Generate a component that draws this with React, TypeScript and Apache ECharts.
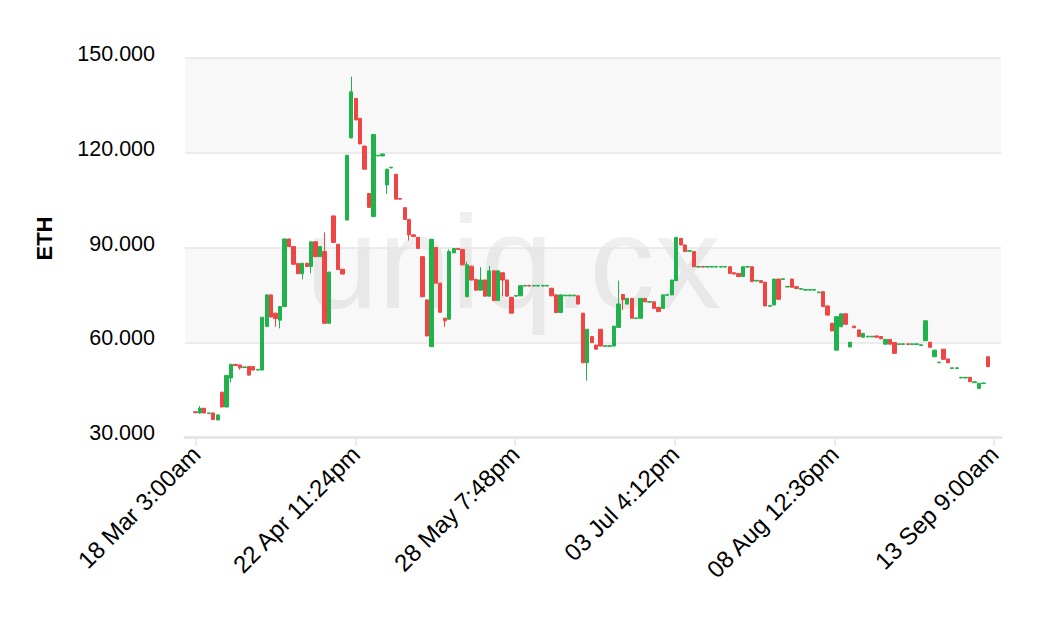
import React, { useEffect, useRef } from 'react';
import * as echarts from 'echarts';

const YEAR = 2022;

// One candle per day: [open, close, low, high]
const DATES = [
  '03-18','03-19','03-20','03-21','03-22','03-23','03-24','03-25','03-26','03-27','03-28','03-29','03-30','03-31',
  '04-01','04-02','04-03','04-04','04-05','04-06','04-07','04-08','04-09','04-10','04-11','04-12','04-13','04-14','04-15',
  '04-16','04-17','04-18','04-19','04-20','04-21','04-22','04-23','04-24','04-25','04-26','04-27','04-28','04-29','04-30',
  '05-01','05-02','05-03','05-04','05-05','05-06','05-07','05-08','05-09','05-10','05-11','05-12','05-13','05-14','05-15',
  '05-16','05-17','05-18','05-19','05-20','05-21','05-22','05-23','05-24','05-25','05-26','05-27','05-28','05-29','05-30','05-31',
  '06-01','06-02','06-03','06-04','06-05','06-06','06-07','06-08','06-09','06-10','06-11','06-12','06-13','06-14','06-15',
  '06-16','06-17','06-18','06-19','06-20','06-21','06-22','06-23','06-24','06-25','06-26','06-27','06-28','06-29','06-30',
  '07-01','07-02','07-03','07-04','07-05','07-06','07-07','07-08','07-09','07-10','07-11','07-12','07-13','07-14','07-15',
  '07-16','07-17','07-18','07-19','07-20','07-21','07-22','07-23','07-24','07-25','07-26','07-27','07-28','07-29','07-30','07-31',
  '08-01','08-02','08-03','08-04','08-05','08-06','08-07','08-08','08-09','08-10','08-11','08-12','08-13','08-14','08-15',
  '08-16','08-17','08-18','08-19','08-20','08-21','08-22','08-23','08-24','08-25','08-26','08-27','08-28','08-29','08-30','08-31',
  '09-01','09-02','09-03','09-04','09-05','09-06','09-07','09-08','09-09','09-10','09-11','09-12',
];

const CANDLES: number[][] = [
  // March
  [38.0,37.7,37.5,38.1],[37.6,39.1,37.4,39.8],[39.1,37.6,37.5,39.2],[37.4,37.6,37.3,37.7],
  [37.6,35.5,35.4,37.7],[35.4,37.0,35.3,37.1],[44.2,39.5,39.4,44.3],[39.5,49.5,39.4,49.6],
  [48.7,53.0,47.3,53.2],[53.0,52.6,52.5,53.1],[52.8,51.9,51.3,52.9],[52.0,52.2,51.9,52.3],
  [52.3,49.6,49.5,52.4],[52.3,51.2,51.1,52.4],
  // April
  [51.2,51.4,51.1,51.5],[51.2,67.9,51.1,68.0],[65.0,75.0,64.9,75.1],[75.0,68.0,67.9,75.1],
  [69.2,67.5,64.9,69.3],[67.0,71.3,64.4,71.4],[71.3,92.7,71.2,92.8],[92.7,90.3,90.2,92.8],
  [90.3,84.7,84.6,90.4],[84.9,81.7,81.6,85.0],[81.7,85.0,79.9,85.1],[85.0,84.0,83.9,85.1],
  [84.0,91.8,81.8,91.9],[91.8,87.1,87.0,91.9],[87.1,90.3,87.0,90.4],[88.7,66.0,65.9,94.8],
  [66.0,82.2,65.9,82.3],[100.0,91.6,91.5,100.1],[91.0,83.0,82.9,91.1],[83.1,81.6,81.5,83.2],
  [98.7,119.2,98.6,119.3],[124.7,139.3,124.6,144.1],[137.2,130.4,130.3,137.3],[130.9,122.8,122.7,131.0],
  [122.1,114.8,114.7,122.2],[107.1,102.7,102.6,107.2],[99.8,125.8,99.7,125.9],[119.0,119.2,118.9,119.3],
  [119.0,119.6,118.9,119.7],[109.8,114.8,107.0,114.9],
  // May
  [115.2,115.4,115.1,115.5],[113.2,105.3,105.2,113.3],[105.5,105.3,105.2,105.6],[102.6,98.9,98.8,102.7],
  [98.9,94.0,92.2,99.0],[94.0,93.5,93.4,94.1],[93.2,89.7,89.6,93.3],[87.1,74.4,74.3,87.2],
  [73.4,62.0,61.9,73.5],[58.6,92.6,58.5,92.7],[90.0,78.7,78.6,90.1],[78.7,69.5,69.4,78.8],
  [67.6,66.8,64.9,67.7],[67.3,88.7,67.2,89.4],[88.3,89.7,88.2,89.8],[89.7,89.4,89.3,89.8],
  [89.4,84.5,84.4,89.5],[74.4,84.5,74.3,85.5],[84.1,79.7,79.6,84.2],[79.9,76.5,76.4,80.0],
  [76.5,79.7,76.4,83.8],[79.7,74.6,74.5,79.8],[74.6,82.6,74.5,84.2],[82.6,73.2,73.1,82.7],
  [73.2,82.6,73.1,82.7],[82.0,79.7,74.6,82.1],[79.7,74.6,74.5,79.8],[74.2,69.2,69.1,74.3],
  [74.6,74.8,74.5,74.9],[74.7,77.9,74.6,78.0],[77.8,78.0,77.7,78.1],
  // June
  [78.0,77.8,77.7,78.1],[77.8,78.0,77.7,78.1],[77.8,78.0,77.7,78.1],[77.8,78.0,77.7,78.1],
  [77.8,78.0,77.7,78.1],[77.1,74.7,74.6,77.2],[75.0,69.4,69.3,75.1],[69.4,75.0,69.3,75.1],
  [74.7,74.9,74.6,75.0],[74.7,74.9,74.6,75.0],[74.7,74.9,74.6,75.0],[74.7,72.1,72.0,74.8],
  [69.2,53.5,53.4,69.3],[53.5,64.1,47.8,64.2],[61.8,59.9,59.8,61.9],[59.1,57.8,57.7,59.2],
  [64.1,58.8,58.7,64.2],[58.7,58.9,58.6,59.0],[58.7,58.9,58.6,59.0],[58.8,65.1,58.7,65.2],
  [64.7,72.1,64.6,79.5],[75.1,73.5,70.2,75.2],[72.1,73.9,72.0,74.0],[73.9,67.6,67.5,74.0],
  [67.5,67.7,67.4,67.8],[67.6,73.9,67.5,74.0],[73.9,72.8,72.7,74.0],[72.7,72.9,72.6,73.0],
  [72.8,70.7,70.6,72.9],[71.0,69.7,69.6,71.1],
  // July
  [70.7,75.0,70.6,75.1],[74.9,75.1,74.8,75.2],[75.0,79.7,74.9,79.8],[79.5,93.2,79.4,93.3],
  [92.9,90.8,90.7,93.0],[90.8,88.7,88.6,90.9],[88.8,89.0,88.7,89.1],[88.7,83.9,83.8,88.8],
  [83.8,84.0,83.7,84.1],[84.0,83.8,83.7,84.1],[83.8,84.0,83.7,84.1],[83.8,84.0,83.7,84.1],
  [83.8,84.0,83.7,84.1],[83.8,84.0,83.7,84.1],[83.8,84.0,83.7,84.1],[83.9,81.8,81.7,84.0],
  [82.0,81.6,81.5,82.1],[81.8,80.8,80.7,81.9],[80.8,83.9,80.7,84.0],[83.8,84.0,83.7,84.1],
  [83.9,79.2,79.1,84.0],[79.4,79.6,79.3,79.7],[79.5,78.9,78.8,79.6],[79.0,71.5,71.4,79.1],
  [71.4,71.6,71.3,71.7],[71.8,80.0,71.7,80.1],[80.0,73.6,73.5,80.1],[79.9,80.1,79.8,80.2],
  [77.5,77.7,77.4,77.8],[80.0,77.4,77.3,80.1],[77.6,77.0,76.9,77.7],
  // August
  [76.8,77.0,76.7,77.1],[76.5,76.7,76.4,76.8],[76.5,76.7,76.4,76.8],[76.5,76.7,76.4,76.8],
  [75.7,75.9,75.6,76.0],[76.0,71.3,71.2,76.1],[71.5,68.6,68.5,71.6],[66.0,63.6,63.5,66.1],
  [57.5,68.1,57.4,68.2],[64.9,69.0,64.8,69.1],[69.0,65.7,65.6,69.1],[58.5,60.0,58.4,60.1],
  [65.1,64.6,64.5,65.2],[63.9,61.8,61.7,64.0],[61.6,62.8,61.5,62.9],[61.7,61.9,61.6,62.0],
  [61.7,61.9,61.6,62.0],[62.0,61.6,61.5,62.1],[61.8,61.1,61.0,61.9],[59.4,60.9,59.3,61.0],
  [60.9,59.4,59.3,61.0],[59.9,56.5,56.4,60.0],[59.3,59.5,59.2,59.6],[59.3,59.5,59.2,59.6],
  [59.5,59.3,59.2,59.6],[59.3,59.5,59.2,59.6],[59.3,59.5,59.2,59.6],[59.0,59.2,58.9,59.3],
  [60.5,66.8,60.4,66.9],[60.0,58.4,58.3,60.1],[55.4,57.5,55.3,57.6],
  // September
  [53.5,53.7,53.4,53.8],[57.8,54.6,54.5,57.9],[54.7,53.5,53.4,54.8],[51.7,51.9,51.6,52.0],
  [51.7,51.9,51.6,52.0],[48.7,48.9,48.6,49.0],[48.7,48.9,48.6,49.0],[48.9,47.5,47.4,49.0],
  [47.2,47.5,47.1,47.6],[45.4,47.0,45.3,47.1],[46.9,47.1,46.8,47.2],[55.4,52.3,52.2,55.5],
];

const TICK_TIMES = ['2022-03-18 03:00', '2022-04-22 23:24', '2022-05-28 19:48', '2022-07-03 16:12', '2022-08-08 12:36', '2022-09-13 09:00'];
const TICK_LABELS = ['18 Mar 3:00am', '22 Apr 11:24pm', '28 May 7:48pm', '03 Jul 4:12pm', '08 Aug 12:36pm', '13 Sep 9:00am'];
const X_RANGE = ['2022-03-15 15:42', '2022-09-14 22:44'];
const Y_MIN = 30;
const Y_MAX = 150;
const Y_STEP = 30;

const GREEN = '#21b34b';
const RED = '#ef4545';
const FONT = '"Liberation Sans", Arial, Helvetica, sans-serif';

function toMs(s: string): number {
  const [d, t] = s.split(' ');
  const [Y, M, D] = d.split('-').map(Number);
  const [h, m] = (t || '00:00').split(':').map(Number);
  return Date.UTC(Y, M - 1, D, h, m);
}

export default function App() {
  const ref = useRef<HTMLDivElement>(null);
  useEffect(() => {
    if (!ref.current) return;
    const chart = echarts.init(ref.current, null, { renderer: 'svg' });
    const ticks = TICK_TIMES.map(toMs);
    const data = DATES.map((d, i) => [toMs(`${YEAR}-${d}`), ...CANDLES[i]]);
    chart.setOption({
      animation: false,
      backgroundColor: '#ffffff',
      textStyle: { fontFamily: FONT },
      grid: { left: 185, right: 41, top: 58, bottom: 197, containLabel: false },
      graphic: [
        {
          type: 'text',
          x: 513,
          y: 262,
          z: -10,
          silent: true,
          style: {
            text: 'uniq.cx',
            fontSize: 131,
            fontFamily: FONT,
            fill: '#efefef',
            align: 'center',
            verticalAlign: 'middle',
          },
        },
      ],
      xAxis: {
        type: 'value',
        min: toMs(X_RANGE[0]),
        max: toMs(X_RANGE[1]),
        axisLine: { show: true, lineStyle: { color: '#e6e6e6', width: 3 } },
        axisTick: { show: true, customValues: ticks, length: 9, lineStyle: { color: '#e6e6e6', width: 1.5 } },
        axisLabel: {
          customValues: ticks,
          rotate: 45,
          fontSize: 24,
          color: '#000',
          fontFamily: FONT,
          margin: 13,
          formatter: (v: number) => {
            let best = 0;
            ticks.forEach((t, i) => { if (Math.abs(t - v) < Math.abs(ticks[best] - v)) best = i; });
            return TICK_LABELS[best];
          },
        },
        splitLine: { show: false },
      },
      yAxis: {
        type: 'value',
        min: Y_MIN,
        max: Y_MAX,
        interval: Y_STEP,
        name: 'ETH',
        nameLocation: 'middle',
        nameGap: 130,
        nameTextStyle: { fontWeight: 'bold', fontSize: 22, color: '#000', fontFamily: FONT, padding: [0, 0, 0, 18] },
        axisLine: { show: false },
        axisTick: { show: false },
        axisLabel: {
          fontSize: 21.5,
          color: '#000',
          fontFamily: FONT,
          margin: 30,
          verticalAlign: 'bottom',
          lineHeight: 8,
          formatter: (v: number) => v.toFixed(3),
        },
        splitLine: { show: true, lineStyle: { color: '#e6e6e6', width: 1.5 } },
        splitArea: { show: true, areaStyle: { color: ['rgba(0,0,0,0)', 'rgba(0,0,0,0.027)'] } },
      },
      series: [
        {
          type: 'candlestick',
          data,
          encode: { x: 0, y: [1, 2, 3, 4] },
          barWidth: 3.8,
          itemStyle: {
            color: GREEN,
            color0: RED,
            borderColor: GREEN,
            borderColor0: RED,
            borderWidth: 1,
          },
        },
      ],
    });
    return () => chart.dispose();
  }, []);
  return <div ref={ref} style={{ position: 'absolute', left: 0, top: 0, width: 1042, height: 634 }} />;
}
